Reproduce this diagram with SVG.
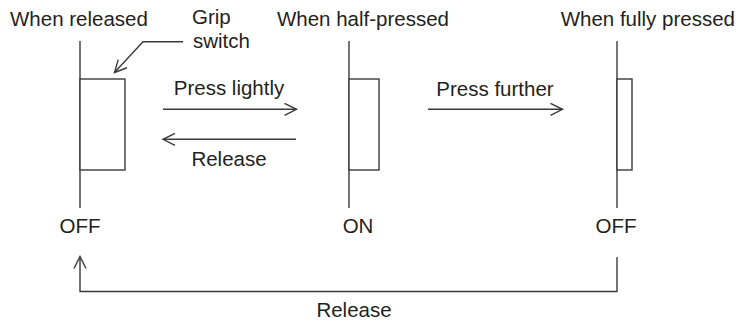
<svg xmlns="http://www.w3.org/2000/svg" width="740" height="326" viewBox="0 0 740 326">
<style>
text{font-family:"Liberation Sans",Arial,sans-serif;font-size:20.5px;fill:#231f20}
.ln{stroke:#3a3a3a;stroke-width:1.4;fill:none}
.bx{stroke:#3a3a3a;stroke-width:1.4;fill:#fff}
</style>
<defs>
<marker id="ah" markerUnits="userSpaceOnUse" markerWidth="16" markerHeight="16" viewBox="-14 -8 16 16" refX="0" refY="0" orient="auto">
<path d="M-12,-6 L0,0 L-12,6" fill="none" stroke="#3a3a3a" stroke-width="1.4"/>
</marker>
</defs>
<rect width="740" height="326" fill="#fff"/>
<g id="released">
<line class="ln" x1="80" y1="41" x2="80" y2="208"/>
<rect class="bx" x="80" y="79" width="45" height="91"/>
<text x="10" y="26">When released</text>
<text x="80" y="233" text-anchor="middle">OFF</text>
</g>
<g id="grip-label">
<text x="192" y="24">Grip</text>
<text x="193" y="48">switch</text>
</g>
<g id="half-pressed">
<line class="ln" x1="349" y1="41" x2="349" y2="208"/>
<rect class="bx" x="349" y="79" width="30" height="91"/>
<text x="449" y="26" text-anchor="end">When half-pressed</text>
<text x="358" y="233" text-anchor="middle">ON</text>
</g>
<g id="fully-pressed">
<line class="ln" x1="617" y1="41" x2="617" y2="208"/>
<rect class="bx" x="617" y="79" width="15" height="91"/>
<text x="735" y="26" text-anchor="end">When fully pressed</text>
<text x="616" y="233" text-anchor="middle">OFF</text>
</g>
<g id="connectors">
<polyline class="ln" points="183,41.7 143,41.7 114.5,72.5" marker-end="url(#ah)"/>
<line class="ln" x1="163" y1="109.3" x2="296.5" y2="109.3" marker-end="url(#ah)"/>
<line class="ln" x1="296" y1="139.3" x2="163" y2="139.3" marker-end="url(#ah)"/>
<line class="ln" x1="428" y1="109.3" x2="562.5" y2="109.3" marker-end="url(#ah)"/>
<polyline class="ln" points="617,257 617,291.5 80,291.5 80,256.5" marker-end="url(#ah)"/>
</g>
<g id="labels">
<text x="229" y="95" text-anchor="middle">Press lightly</text>
<text x="229" y="166" text-anchor="middle">Release</text>
<text x="495" y="96" text-anchor="middle">Press further</text>
<text x="354" y="317" text-anchor="middle">Release</text>
</g>
</svg>
